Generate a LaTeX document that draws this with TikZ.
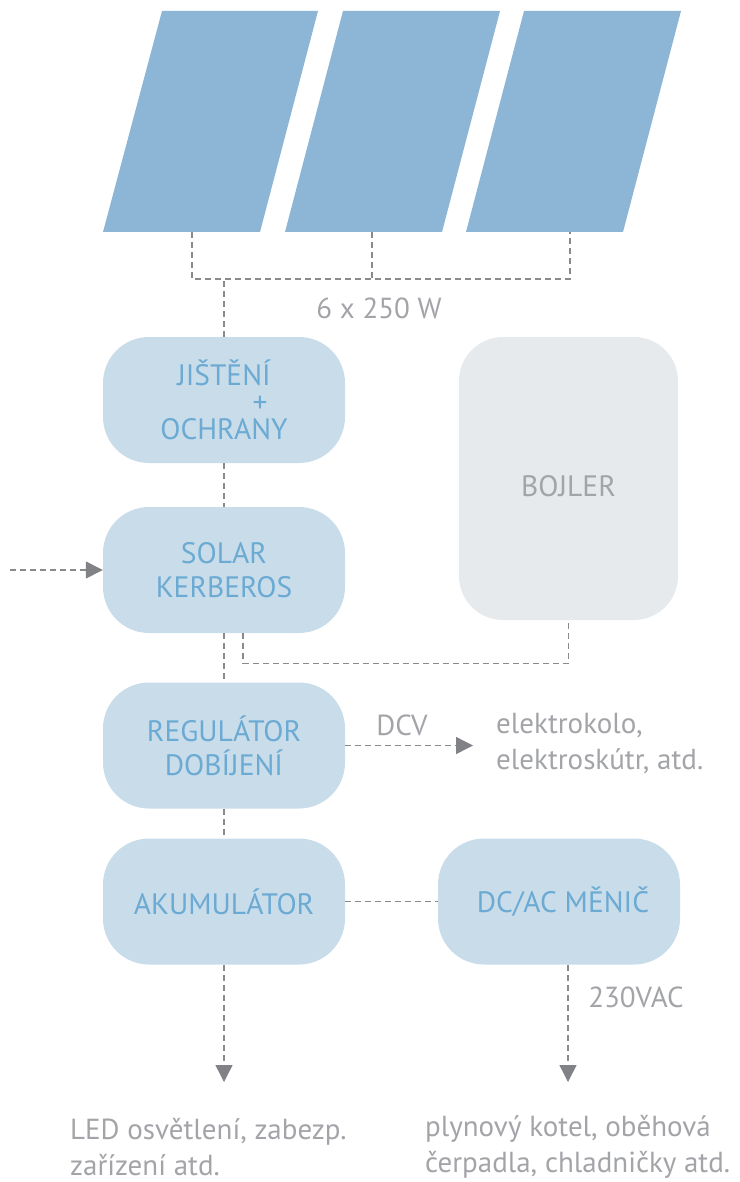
\documentclass[tikz,border=0pt]{standalone}
\usepackage{fontspec}
\setmainfont{PT Sans}
\usetikzlibrary{arrows.meta,calc}
\definecolor{panel}{HTML}{8CB5D6}
\definecolor{boxfill}{HTML}{C9DCEA}
\definecolor{bojfill}{HTML}{E6EAED}
\definecolor{boxtext}{HTML}{6BAAD3}
\definecolor{graytext}{HTML}{A3A4A8}
\definecolor{dashcol}{HTML}{8A8A8C}
\definecolor{arrowcol}{HTML}{808285}
\begin{document}
\begin{tikzpicture}[x=1pt,y=-1pt,
  blk/.style={rounded corners=46pt, fill=boxfill, minimum width=242pt, minimum height=126pt,
    text=boxtext, align=center, font=\fontsize{29.5}{34}\selectfont, inner sep=0pt},
  conn/.style={draw=dashcol, line width=1.4pt, dash pattern=on 6pt off 4pt},
  arr/.style={conn, -{Triangle[length=17pt,width=17pt,fill=arrowcol,color=arrowcol]}},
  lbl/.style={text=graytext, font=\fontsize{29}{36}\selectfont, align=left, inner sep=0pt}]
\useasboundingbox (0,0) rectangle (739,1182);
% solar panels
\fill[panel] (103,232) -- (260,232) -- (318,11) -- (162,11) -- cycle;
\fill[panel] (285,232) -- (442,232) -- (500,11) -- (343,11) -- cycle;
\fill[panel] (466,232) -- (623,232) -- (681,11) -- (524,11) -- cycle;
\coordinate (p1) at (192,232);
\coordinate (p2) at (372,232);
\coordinate (p3) at (570,232);
% boxes
\node[blk] (box1) at (224,400) {JIŠTĚNÍ\\[-7pt]\hspace*{72pt}+\\[-7pt]OCHRANY};
\node[blk] (box2) at (224,570) {SOLAR\\KERBEROS};
\node[blk] (box3) at (224,745.5) {REGULÁTOR\\DOBÍJENÍ};
\node[blk] (box4) at (224,901.5) {AKUMULÁTOR};
\node[blk] (dcac) at (559,901.5) {\hspace*{8pt}DC/AC MĚNIČ};
\node[blk, fill=bojfill, text=graytext, minimum width=219pt, minimum height=283pt, rounded corners=44pt] (bojler) at (568.5,478.5) {\smash{\raisebox{-18pt}{BOJLER}}};
% labels
\node[lbl] (watt) at (379,308) {6 x 250 W};
\node[lbl] (dcv) at (402,725) {DCV};
\node[lbl, anchor=west] (ebike) at (496,743.5) {elektrokolo,\\elektroskútr, atd.};
\node[lbl] (vac) at (636,997) {230VAC};
\node[lbl, anchor=west] (led) at (70,1147) {LED osvětlení, zabezp.\\zařízení atd.};
\node[lbl, anchor=west] (plyn) at (425,1147) {plynový kotel, oběhová\\čerpadla, chladničky atd.};
% connectors
\draw[conn] (p1) -- ++(0,47) -| (p3);
\draw[conn] (p2) -- ++(0,47);
\draw[conn] (box1.north) -- ++(0,-58);
\draw[conn] (box1) -- (box2);
\coordinate (in) at (10,570);
\draw[arr] (in) -- (box2.west);
\draw[conn] (box2) -- (box3);
\draw[conn] ($(box2.south)+(19,0)$) -- ++(0,30) -| (bojler.south);
\draw[conn] (box3) -- (box4);
\coordinate (dcvend) at (473,745.5);
\draw[arr] (box3.east) -- (dcvend);
\draw[conn] (box4) -- (dcac);
\coordinate (ledend) at (224,1082);
\coordinate (plynend) at (568,1082);
\draw[arr] (box4.south) -- (ledend);
\draw[arr] (dcac.south -| plynend) -- (plynend);
\end{tikzpicture}
\end{document}
